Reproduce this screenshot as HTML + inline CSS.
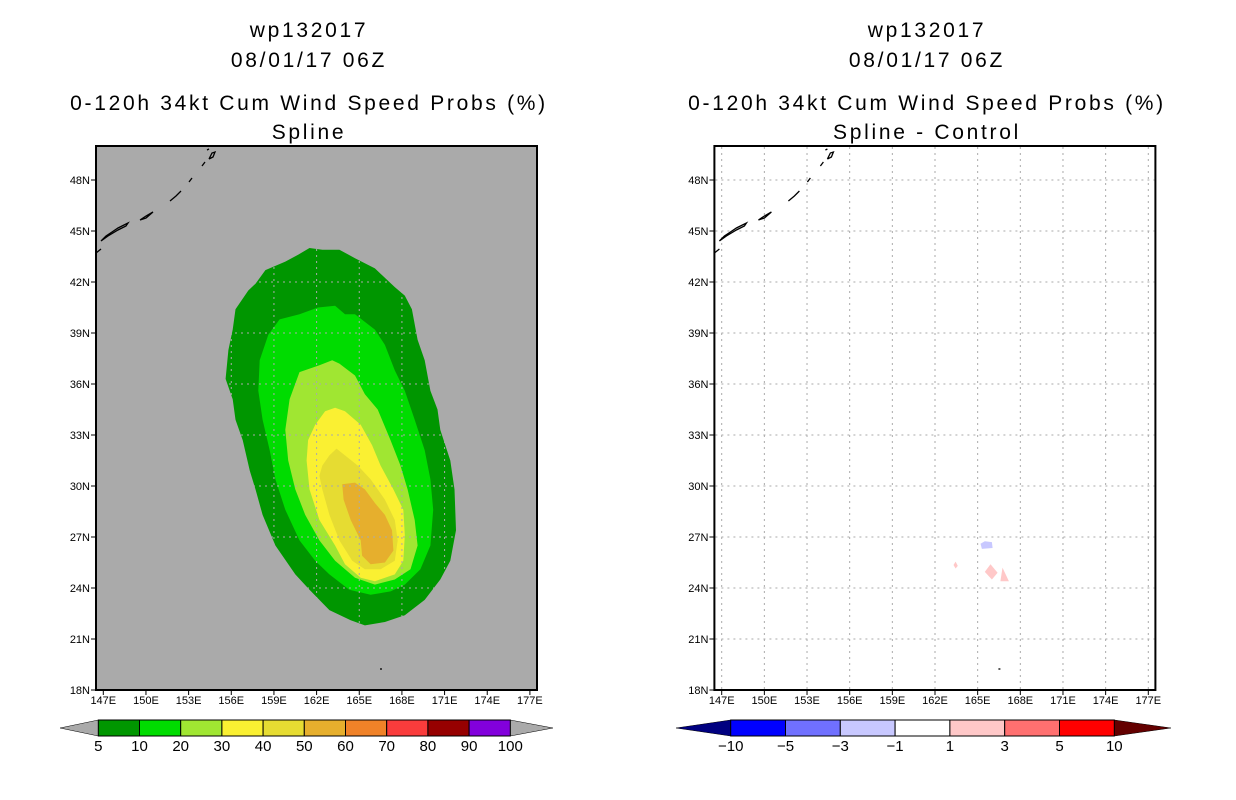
<!DOCTYPE html>
<html><head><meta charset="utf-8"><style>
html,body{margin:0;padding:0;background:#fff;}
svg{display:block;font-family:"Liberation Sans",sans-serif;}
.t{font-size:21px;letter-spacing:2.7px;text-anchor:middle;fill:#000}
.ax{font-size:11px;fill:#000}
.cb{font-size:15px;fill:#000;text-anchor:middle}
</style></head><body>
<svg id="svg" width="1236" height="800" viewBox="0 0 1236 800" xmlns="http://www.w3.org/2000/svg">
<g>
<text class="t" x="309" y="37">wp132017</text>
<text class="t" x="309" y="67">08/01/17 06Z</text>
<text class="t" x="309" y="110">0-120h 34kt Cum Wind Speed Probs (%)</text>
<text class="t" x="309" y="139">Spline</text>
</g>
<g>
<text class="t" x="927" y="37">wp132017</text>
<text class="t" x="927" y="67">08/01/17 06Z</text>
<text class="t" x="927" y="110">0-120h 34kt Cum Wind Speed Probs (%)</text>
<text class="t" x="927" y="139">Spline - Control</text>
</g>
<g id="left"></g>
<g id="right"></g>
<g id="cbl"></g>
<g id="cbr"></g>
</svg>
<script>
const lonTicks=[147,150,153,156,159,162,165,168,171,174,177];
const latTicks=[18,21,24,27,30,33,36,39,42,45,48];
const levelsL=["5","10","20","30","40","50","60","70","80","90","100"];
const colorsL=["#009600","#00dc00","#a0e632","#faf032","#e6dc32","#e6af2d","#f08228","#fa3c3c","#960000","#8200dc"];
const levelsR=["-10","-5","-3","-1","1","3","5","10"];
const colorsR=["#0000ff","#7070ff","#c8c8ff","#ffffff","#ffc8c8","#ff7070","#ff0000"];
const c5=[[161.5,44.0],[162.4,43.9],[163.6,43.9],[164.7,43.4],[166.1,42.8],[167.5,41.7],[168.2,41.2],[168.7,40.4],[169.1,38.6],[169.6,37.4],[170.0,35.6],[170.5,34.5],[170.7,33.3],[171.4,31.5],[171.7,29.8],[171.8,27.4],[171.4,25.6],[170.7,24.5],[169.6,23.3],[168.2,22.4],[166.8,22.0],[165.4,21.8],[164.4,22.1],[162.9,22.7],[161.5,23.9],[160.5,24.8],[159.1,26.5],[158.2,28.3],[157.7,29.8],[157.3,30.9],[156.8,32.7],[156.3,33.9],[156.1,35.1],[155.6,36.3],[155.8,38.0],[156.1,39.2],[156.3,40.4],[157.2,41.5],[157.7,41.9],[158.4,42.7],[159.8,43.2],[160.7,43.6]];
const c10=[[159.4,39.8],[160.8,40.1],[162.1,40.5],[163.3,40.6],[164.0,40.1],[164.7,40.1],[166.1,39.2],[166.8,38.3],[167.5,36.8],[168.2,35.6],[168.9,33.9],[169.6,32.1],[170.0,30.4],[170.2,28.6],[170.0,26.5],[169.3,25.1],[168.2,24.2],[167.2,23.8],[165.8,23.6],[164.3,23.9],[162.9,24.8],[161.9,25.6],[160.8,26.8],[159.8,28.6],[159.1,30.4],[158.7,32.1],[158.2,33.9],[157.9,35.6],[158.0,37.4],[158.6,38.9]];
const c20=[[160.8,36.7],[162.2,37.1],[163.1,37.4],[163.6,37.2],[164.7,36.5],[165.4,35.4],[166.3,34.5],[167.2,32.7],[167.9,31.2],[168.4,29.8],[168.9,28.0],[169.1,26.5],[168.6,25.1],[167.5,24.5],[166.1,24.2],[164.7,24.6],[163.3,25.6],[162.2,26.8],[161.2,28.3],[160.5,29.8],[160.0,31.5],[159.8,33.3],[160.1,35.1]];
const c30=[[161.9,33.6],[162.6,34.4],[163.3,34.6],[164.0,34.4],[165.1,33.6],[165.9,32.4],[166.5,31.2],[167.4,29.8],[168.1,28.6],[168.2,27.1],[168.1,25.6],[167.5,24.8],[166.1,24.4],[165.1,24.6],[164.0,25.4],[163.3,26.5],[162.2,28.0],[161.5,29.8],[161.3,31.5],[161.4,32.7]];
const c40=[[162.4,31.2],[162.9,31.8],[163.4,32.2],[164.0,31.8],[164.9,31.2],[165.8,30.4],[166.8,29.2],[167.5,28.0],[167.7,26.8],[167.5,25.6],[166.5,25.1],[165.4,25.1],[164.5,25.6],[163.6,26.8],[162.9,28.3],[162.4,29.8],[162.2,30.6]];
const c50=[[163.8,30.1],[164.7,30.2],[165.4,29.8],[166.1,29.0],[166.8,28.3],[167.3,27.4],[167.4,26.2],[166.8,25.5],[165.8,25.4],[165.2,25.9],[165.1,26.8],[164.4,28.0],[163.9,29.2]];
const diffBlue=[[165.2,26.6],[165.5,26.75],[166.0,26.7],[166.05,26.35],[165.3,26.3]];
const diffPink1=[[165.9,25.4],[166.4,24.9],[166.0,24.5],[165.5,24.95]];
const diffPink2=[[166.75,25.2],[167.2,24.4],[166.6,24.4]];
const diffPink3=[[163.45,25.55],[163.6,25.3],[163.45,25.15],[163.3,25.35]];
const NS="http://www.w3.org/2000/svg";
function el(t,a,p){const e=document.createElementNS(NS,t);for(const k in a)e.setAttribute(k,a[k]);p.appendChild(e);return e;}
function X(lon,off){return off+103.3+(lon-147)*14.22;}
function Y(lat){return 690-(lat-18)*17;}
function pts(arr,off){return arr.map(p=>X(p[0],off).toFixed(1)+","+Y(p[1]).toFixed(1)).join(" ");}
const coast=[[[96,253],[101,249]],[[101,241],[106,236],[112,232],[118,228],[122,226],[128,223],[126,226],[118,230],[108,236],[101,241]],[[140,220],[146,216],[153,212],[146,218],[140,220]],[[170,201],[176,196],[181,191]],[[189,182],[192,178]],[[202,166],[205,162]],[[209,159],[212,153],[215,152],[213,157],[209,159]],[[207,150],[209,149]],[[380,669],[382,669]]];
function panel(g,off,bg,isLeft){
  el('rect',{x:96+off,y:146,width:441,height:544,fill:bg},g);
  if(isLeft){
    const polys=[c5,c10,c20,c30,c40,c50];
    polys.forEach((c,i)=>{const p=el('polygon',{points:pts(c,off),fill:colorsL[i]},g);
      
      });
  } else {
    [[diffBlue,"#c8c8ff"],[diffPink1,"#ffc8c8"],[diffPink2,"#ffc8c8"],[diffPink3,"#ffc8c8"]].forEach((d,i)=>{
      const p=el('polygon',{points:pts(d[0],off),fill:d[1]},g);
      
      });
  }
  const grid=el('g',{stroke:'#aaaaaa','stroke-width':1,'stroke-dasharray':'2,4',fill:'none'},g);
  
  
  lonTicks.forEach(l=>{const x=X(l,off);el('line',{x1:x,x2:x,y1:147,y2:689},grid);});
  latTicks.slice(1).forEach(l=>{const y=Y(l);el('line',{x1:97+off,x2:536+off,y1:y,y2:y},grid);});
  coast.forEach(c=>{const pl=el('polyline',{points:c.map(p=>(p[0]+off)+","+p[1]).join(" "),fill:'none',stroke:'#000','stroke-width':1.3},g);
    
    });
  el('rect',{x:96+off,y:146,width:441,height:544,fill:'none',stroke:'#000','stroke-width':2},g);
  lonTicks.forEach(l=>{const x=X(l,off);el('line',{x1:x,x2:x,y1:690,y2:695,stroke:'#000'},g);
    const t=el('text',{x:x,y:704,'text-anchor':'middle',class:'ax'},g);t.textContent=l+'E';
    
    });
  latTicks.forEach(l=>{const y=Y(l);el('line',{x1:91+off,x2:96+off,y1:y,y2:y,stroke:'#000'},g);
    const t=el('text',{x:90+off,y:y+4,'text-anchor':'end',class:'ax'},g);t.textContent=l+'N';
    
    });
}
panel(document.getElementById('left'),0,'#aaaaaa',true);
panel(document.getElementById('right'),618.4,'#ffffff',false);
function colorbar(g,x0,w,cols,labs,lc,rc,lt,rt){
  const y0=720,h=16;
  el('polygon',{points:`${lt},${y0+h/2} ${x0},${y0} ${x0},${y0+h}`,fill:lc,stroke:'#000','stroke-width':0.5},g);
  const xe=x0+w*cols.length;
  el('polygon',{points:`${rt},${y0+h/2} ${xe},${y0} ${xe},${y0+h}`,fill:rc,stroke:'#000','stroke-width':0.5},g);
  cols.forEach((c,i)=>{const r=el('rect',{x:x0+i*w,y:y0,width:w,height:h,fill:c,stroke:'#000','stroke-width':1},g);
    
    });
  labs.forEach((l,i)=>{const t=el('text',{x:x0+i*w,y:y0+h+15,class:'cb'},g);t.textContent=l.replace('-','\u2212');
    
    });
}
colorbar(document.getElementById('cbl'),98.3,41.2,colorsL,levelsL,'#aaaaaa','#aaaaaa',60,553);
colorbar(document.getElementById('cbr'),730.7,54.8,colorsR,levelsR,'#000080','#640000',676,1171);
</script>
</body></html>
